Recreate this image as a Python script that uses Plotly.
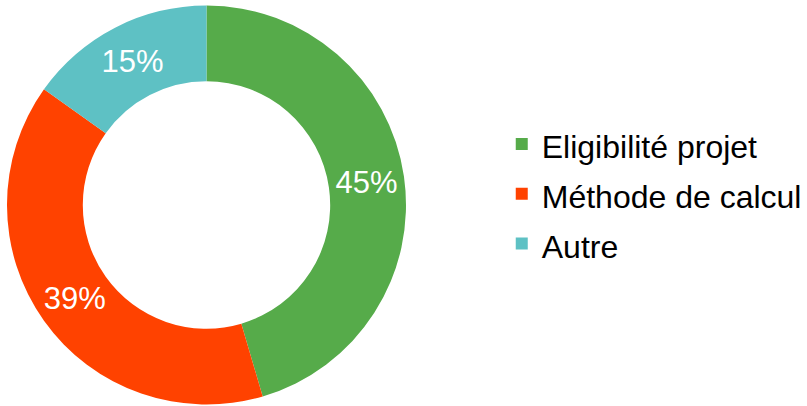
import plotly.graph_objects as go

labels = ["Eligibilité projet", "Méthode de calcul", "Autre"]
values = [45, 39, 15]
colors = ["#56AB4A", "#FF4200", "#5EC1C4"]

W, H = 807, 406
FONT = "Liberation Sans, Arial, sans-serif"

# legend labels rendered at 32px, legend font larger only to widen row spacing
legend_labels = ['<span style="font-size:32px">%s</span>' % s for s in labels]

fig = go.Figure(go.Pie(
    labels=legend_labels,
    values=values,
    hole=0.62,
    sort=False,
    direction="clockwise",
    rotation=0,
    marker=dict(colors=colors, line=dict(width=0)),
    texttemplate="%{value}%",
    textposition="inside",
    insidetextorientation="horizontal",
    textfont=dict(color="white", size=31, family=FONT),
    domain=dict(x=[7 / W, 407 / W], y=[1 / H, 401 / H]),
    hoverinfo="value",
))
fig.update_layout(
    width=W, height=H,
    margin=dict(l=0, r=0, t=0, b=0),
    paper_bgcolor="white",
    plot_bgcolor="white",
    font=dict(family=FONT, color="black"),
    legend=dict(
        x=503 / W, xanchor="left",
        y=1 - 194 / H, yanchor="middle",
        font=dict(size=36, color="black", family=FONT),
        bgcolor="rgba(0,0,0,0)",
    ),
    uniformtext=dict(minsize=31, mode="show"),
)
fig.write_html("out.html", config={"displayModeBar": False},
               post_script="document.body.style.margin='0';")
